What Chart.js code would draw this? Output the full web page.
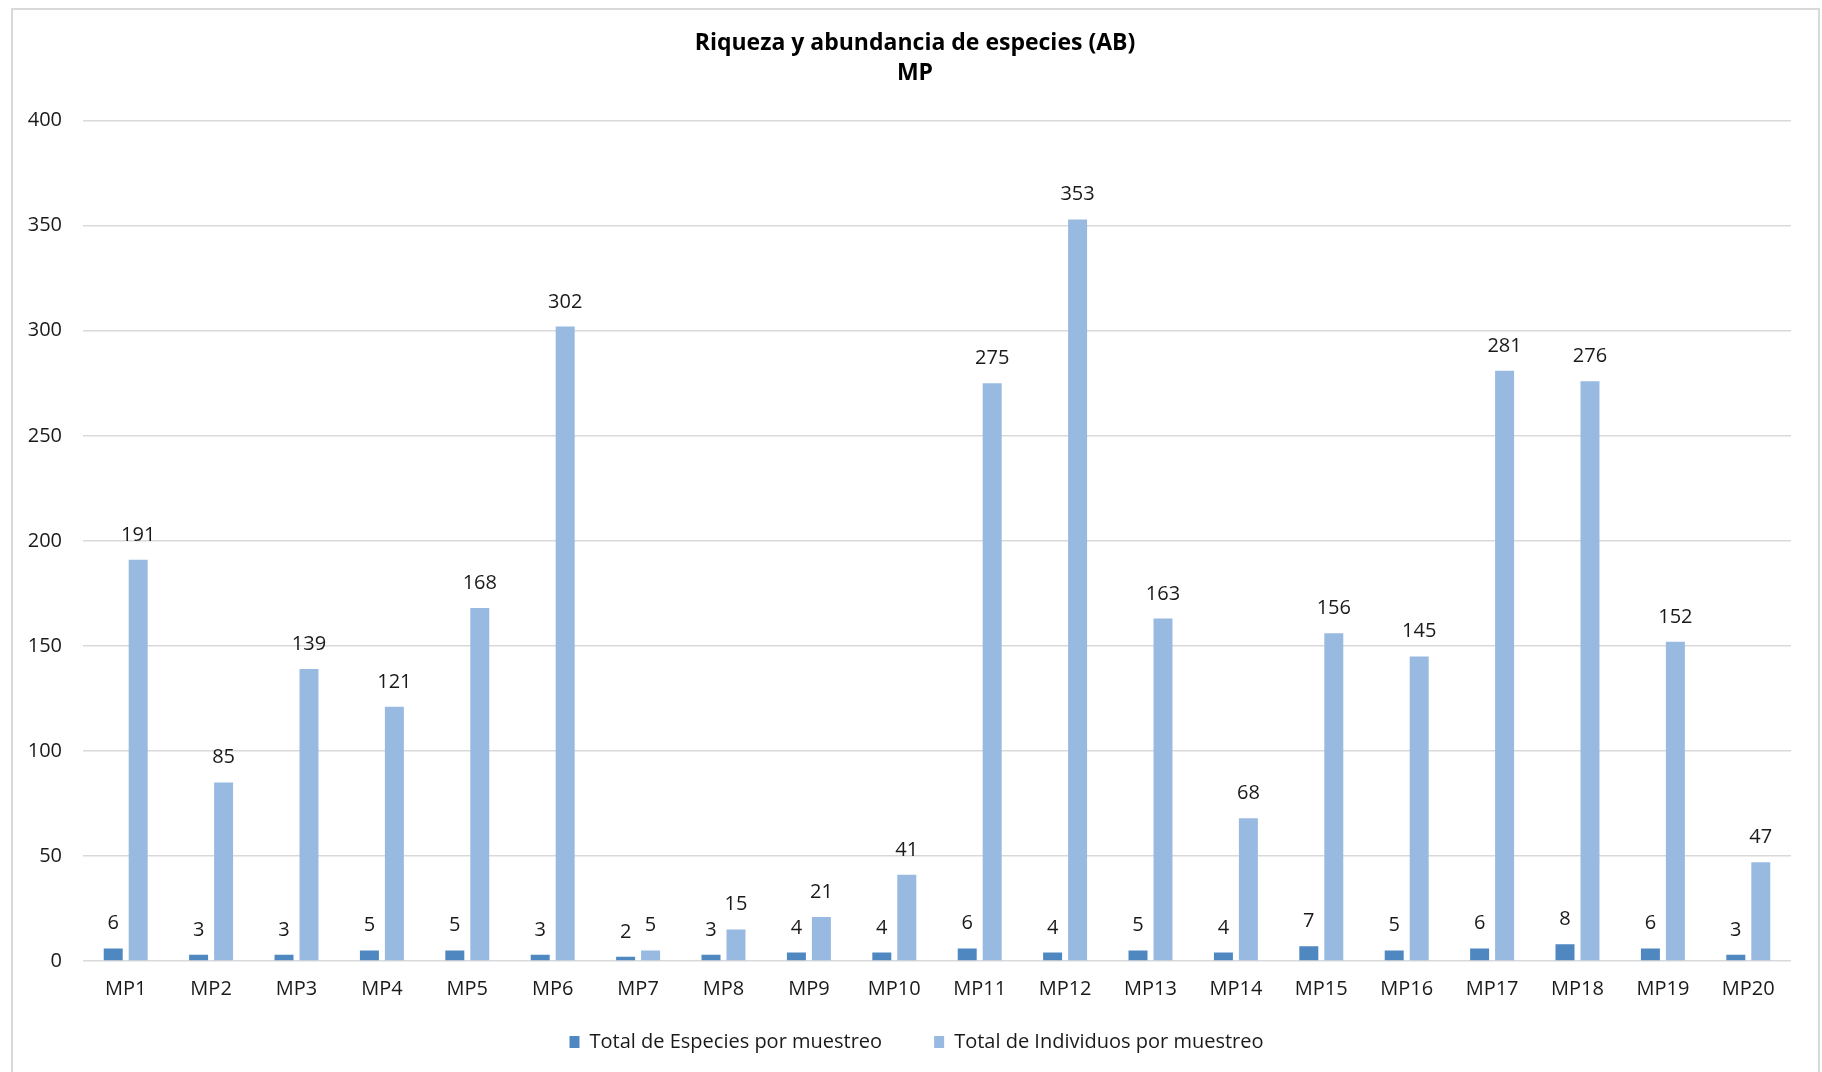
<!DOCTYPE html>
<html>
<head>
<meta charset="utf-8">
<script src="https://cdn.jsdelivr.net/npm/chart.js@4/dist/chart.umd.min.js"></script>
<style>
  html, body { margin: 0; padding: 0; background: #ffffff; }
  canvas { display: block; }
</style>
</head>
<body>
<canvas id="chart" width="1822" height="1072"></canvas>
<script>
// Sampling points
const categories = ['MP1','MP2','MP3','MP4','MP5','MP6','MP7','MP8','MP9','MP10',
                    'MP11','MP12','MP13','MP14','MP15','MP16','MP17','MP18','MP19','MP20'];
// Species richness per sample
const especies = [6,3,3,5,5,3,2,3,4,4,6,4,5,4,7,5,6,8,6,3];
// Abundance (individuals) per sample
const individuos = [191,85,139,121,168,302,5,15,21,41,275,353,163,68,156,145,281,276,152,47];
// Y axis ticks
const yTicks = [0,50,100,150,200,250,300,350,400];

const seriesNames = ['Total de Especies por muestreo', 'Total de Individuos por muestreo'];
const titleLines = ['Riqueza y abundancia de especies (AB)', 'MP'];

const FONT = '"Segoe UI", "Open Sans", "Noto Sans", sans-serif';

// Frame around the whole chart
const framePlugin = {
  id: 'frame',
  beforeDraw(chart) {
    const ctx = chart.ctx;
    ctx.save();
    ctx.fillStyle = '#ffffff';
    ctx.fillRect(0, 0, chart.width, chart.height);
    ctx.strokeStyle = '#d9d9d9';
    ctx.lineWidth = 2;
    ctx.strokeRect(12, 9, 1807, 1080);
    ctx.restore();
  }
};

// Centre title and legend on the framed area, and lift the legend row
const blockOffsets = {
  id: 'blockOffsets',
  afterLayout(chart) {
    if (chart.titleBlock) chart.titleBlock.left += 39;
    if (chart.legend) {
      chart.legend.left += 42;
      chart.legend.top -= 26;
    }
  }
};

// Value labels above every bar
const valueLabels = {
  id: 'valueLabels',
  afterDatasetsDraw(chart) {
    const ctx = chart.ctx;
    ctx.save();
    ctx.font = '20px ' + FONT;
    ctx.fillStyle = '#1a1a1a';
    ctx.textAlign = 'center';
    ctx.textBaseline = 'alphabetic';
    chart.data.datasets.forEach((ds, di) => {
      const meta = chart.getDatasetMeta(di);
      meta.data.forEach((bar, i) => {
        ctx.fillText(String(ds.data[i]), bar.x, bar.y - 19);
      });
    });
    ctx.restore();
  }
};

new Chart(document.getElementById('chart'), {
  type: 'bar',
  data: {
    labels: categories,
    datasets: [
      {
        label: seriesNames[0],
        data: especies,
        backgroundColor: '#4f87c0',
        categoryPercentage: 0.585,
        barPercentage: 0.76
      },
      {
        label: seriesNames[1],
        data: individuos,
        backgroundColor: '#98bae1',
        categoryPercentage: 0.585,
        barPercentage: 0.76
      }
    ]
  },
  options: {
    responsive: false,
    animation: false,
    devicePixelRatio: 1,
    layout: { padding: { left: 0, right: 31, top: 0, bottom: 0 } },
    plugins: {
      title: {
        display: true,
        text: titleLines,
        color: '#000000',
        font: { family: FONT, size: 23, weight: 'bold', lineHeight: 1.32 },
        padding: { top: 28, bottom: 32 }
      },
      legend: {
        display: true,
        position: 'bottom',
        maxHeight: 66,
        labels: {
          color: '#1a1a1a',
          font: { family: FONT, size: 20 },
          boxWidth: 10,
          boxHeight: 12,
          padding: 52
        }
      },
      tooltip: { enabled: false }
    },
    scales: {
      x: {
        afterFit(scale) { scale.height = 45; },
        grid: { display: false, drawTicks: false },
        border: { display: false },
        ticks: { color: '#1a1a1a', font: { family: FONT, size: 20 }, padding: 16, maxRotation: 0 }
      },
      y: {
        min: 0,
        max: 400,
        afterBuildTicks(scale) { scale.ticks = yTicks.map(v => ({ value: v })); },
        afterFit(scale) { scale.width = 83; },
        grid: { color: '#d9d9d9', lineWidth: 1.5, drawTicks: false },
        border: { display: false },
        ticks: { color: '#1a1a1a', font: { family: FONT, size: 20 }, padding: 21 }
      }
    }
  },
  plugins: [framePlugin, blockOffsets, valueLabels]
});
</script>
</body>
</html>
